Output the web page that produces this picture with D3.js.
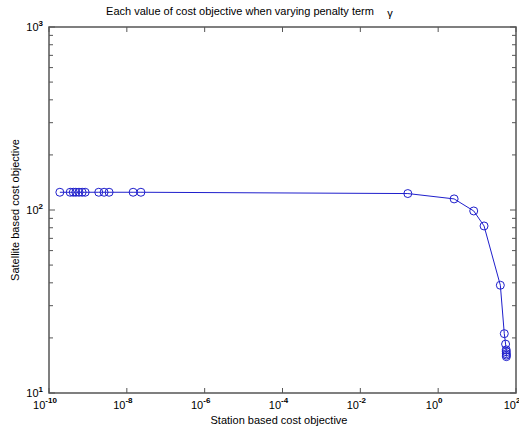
<!DOCTYPE html>
<html>
<head>
<meta charset="utf-8">
<script src="https://cdn.jsdelivr.net/npm/d3@7"></script>
<style>
  body { margin: 0; background: #fff; }
  text { font-family: "Liberation Sans", Arial, sans-serif; fill: #000; }
</style>
</head>
<body>
<script>
// station cost (x) and satellite cost (y)
var stationCost = [1.9e-10, 3.5e-10, 4.2e-10, 4.9e-10, 5.9e-10, 7.1e-10, 8.5e-10,
  1.9e-9, 2.6e-9, 3.5e-9, 1.45e-8, 2.3e-8,
  0.166, 2.57, 8.2, 15.1, 39.6, 50, 54, 56, 56.2, 56.4, 56.5, 56.6]
var satelliteCost = [125, 125, 125, 125, 125, 125, 125,
  125, 125, 125, 125, 125,
  123, 115, 98.8, 81.8, 38.8, 21.1, 18.5, 17.2, 16.8, 16.4, 16.1, 15.8]

var xTickExps = [-10, -8, -6, -4, -2, 0, 2]
var yTickExps = [1, 2, 3]

var titleText = "Each value of cost objective when varying penalty term"
var xLabel = "Station based cost objective"
var yLabel = "Satellite based cost objective"

function main() {
  var W = 519, H = 431
  var left = 49, right = 516, top = 27, bottom = 393
  var svg = d3.select("body").append("svg").attr("width", W).attr("height", H)

  var x = d3.scaleLog().domain([1e-10, 1e2]).range([left, right])
  var y = d3.scaleLog().domain([10, 1000]).range([bottom, top])

  var axisColor = "#555"
  var blue = "#1f1fcc"

  // minor y ticks
  var minorY = []
  for (var e = 1; e < 3; e++) {
    for (var k = 2; k <= 9; k++) minorY.push(k * Math.pow(10, e))
  }
  var g = svg.append("g")
  minorY.forEach(function(v) {
    g.append("line").attr("x1", left).attr("x2", left + 4).attr("y1", y(v)).attr("y2", y(v))
      .attr("stroke", axisColor).attr("stroke-width", 1)
    g.append("line").attr("x1", right).attr("x2", right - 4).attr("y1", y(v)).attr("y2", y(v))
      .attr("stroke", axisColor).attr("stroke-width", 1)
  })
  yTickExps.forEach(function(e) {
    var v = Math.pow(10, e)
    g.append("line").attr("x1", left).attr("x2", left + 6).attr("y1", y(v)).attr("y2", y(v))
      .attr("stroke", axisColor).attr("stroke-width", 1)
    g.append("line").attr("x1", right).attr("x2", right - 6).attr("y1", y(v)).attr("y2", y(v))
      .attr("stroke", axisColor).attr("stroke-width", 1)
    var t = svg.append("text").attr("x", left - 6).attr("y", y(v) + 4)
      .attr("text-anchor", "end").attr("font-size", 11)
    t.append("tspan").text("10")
    t.append("tspan").attr("dy", -5).attr("font-size", 8).attr("font-weight", "bold").text(e)
  })
  xTickExps.forEach(function(e) {
    var v = Math.pow(10, e)
    g.append("line").attr("x1", x(v)).attr("x2", x(v)).attr("y1", bottom).attr("y2", bottom - 5)
      .attr("stroke", axisColor).attr("stroke-width", 1)
    g.append("line").attr("x1", x(v)).attr("x2", x(v)).attr("y1", top).attr("y2", top + 5)
      .attr("stroke", axisColor).attr("stroke-width", 1)
    var t = svg.append("text").attr("x", x(v) - 4).attr("y", bottom + 16)
      .attr("text-anchor", "middle").attr("font-size", 11)
    t.append("tspan").text("10")
    t.append("tspan").attr("dy", -6).attr("font-size", 8).attr("font-weight", "bold").text(e)
  })

  // box
  svg.append("rect").attr("x", left).attr("y", top).attr("width", right - left).attr("height", bottom - top)
    .attr("fill", "none").attr("stroke", axisColor).attr("stroke-width", 1.5)

  // data line and markers
  var pts = stationCost.map(function(d, i) { return [d, satelliteCost[i]] })
  var line = d3.line().x(function(d) { return x(d[0]) }).y(function(d) { return y(d[1]) })
  svg.append("path").datum(pts).attr("d", line)
    .attr("fill", "none").attr("stroke", blue).attr("stroke-width", 1)
  svg.selectAll("circle.pt").data(pts).enter().append("circle")
    .attr("class", "pt")
    .attr("cx", function(d) { return x(d[0]) })
    .attr("cy", function(d) { return y(d[1]) })
    .attr("r", 4)
    .attr("fill", "none").attr("stroke", blue).attr("stroke-width", 1)

  // labels
  svg.append("text").attr("x", 240).attr("y", 15).attr("text-anchor", "middle")
    .attr("font-size", 11).text(titleText)
  svg.append("text").attr("x", 390).attr("y", 17).attr("text-anchor", "middle")
    .attr("font-size", 11).text("\u03b3")
  svg.append("text").attr("x", 279).attr("y", 424).attr("text-anchor", "middle")
    .attr("font-size", 11).text(xLabel)
  svg.append("text").attr("transform", "translate(19," + ((top + bottom) / 2) + ") rotate(-90)")
    .attr("text-anchor", "middle").attr("font-size", 11).text(yLabel)
}

main()
</script>
</body>
</html>
